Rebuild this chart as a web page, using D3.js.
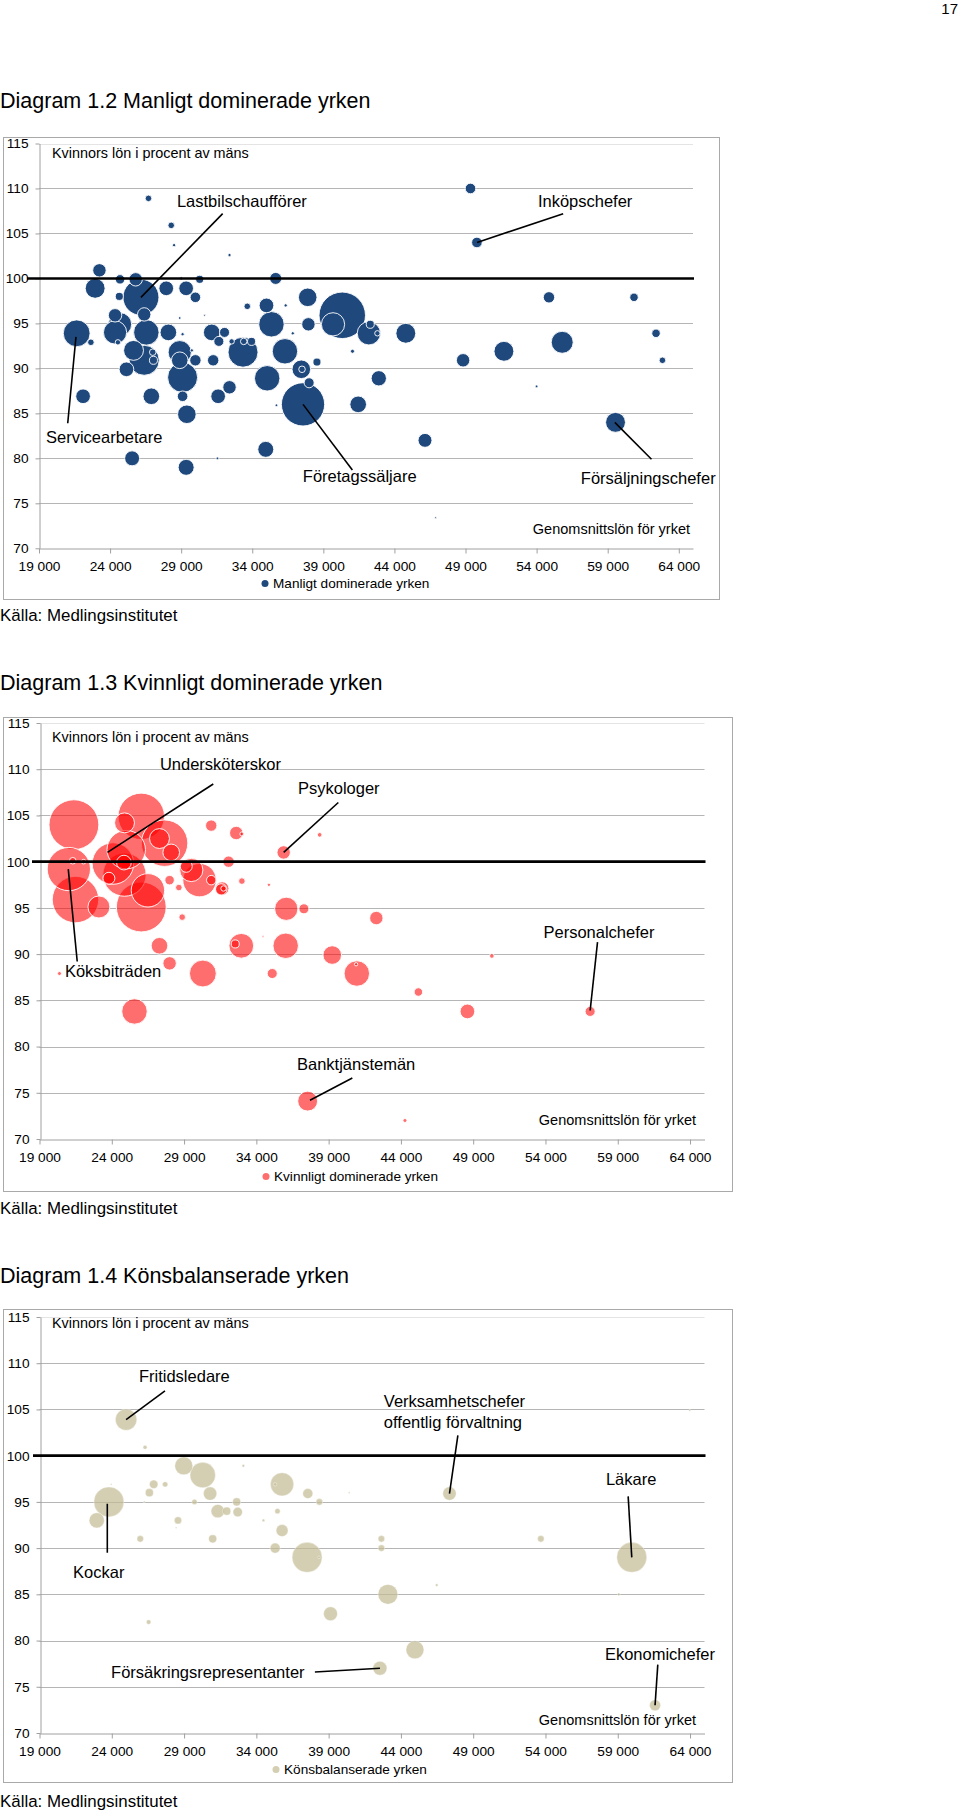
<!DOCTYPE html>
<html><head><meta charset="utf-8">
<script src="https://cdn.jsdelivr.net/npm/d3@7"></script>
<style>
body{margin:0;background:#fff;}
svg{display:block;font-family:"Liberation Sans",Arial,sans-serif;}
</style></head><body>
<svg id="c" width="960" height="1813"></svg>
<script>
// ---------- shared axes ----------
const xTicks = [19000,24000,29000,34000,39000,44000,49000,54000,59000,64000];
const yTicks = [70,75,80,85,90,95,100,105,110,115];

// ---------- Diagram 1.2 Manligt dominerade yrken ----------
const maleSalary = [26700,28300,28500,32400,23250,22950,24700,25800,26170,24650,27950,29350,30000,30300,29000,
  24350,24700,24350,26400,26550,25650,26400,27000,27050,24550,28100,28900,28900,30000,29750,29100,28900,30650,
  29100,29100,29400,26900,25150,22100,21650,22650,31150,32050,31650,31250,33350,32550,33400,33950,32400,31600,
  33650,35000,35350,36350,37900,37950,36850,36300,35050,37450,37500,38000,38550,35700,37570,40330,39680,42200,
  42300,42800,35650,41050,41450,42900,44800,49350,49800,48830,51700,54000,54870,55800,60850,62400,62850,59550,
  25550,29350,31550,34950,46150,46900];
const maleRatio = [108.9,105.9,103.7,102.6,100.9,98.9,99.9,99.9,97.9,98.0,98.9,98.9,97.9,99.9,100,
  95.9,94.9,94.0,96.0,94.0,92.0,90.9,91.8,90.9,92.9,94.0,91.8,90.9,90.9,92.0,93.8,95.6,95.9,
  89.0,86.9,84.9,86.9,89.9,86.9,93.9,92.9,94.0,94.0,93.0,90.9,91.8,93.0,93.0,93.0,87.9,86.9,
  96.9,97.0,94.9,97.0,97.9,94.9,93.9,91.9,88.9,89.9,89.9,88.4,90.7,85.9,86.0,95.9,94.9,93.9,
  94.9,93.9,100,91.9,86.0,88.9,93.9,110,104.0,90.9,91.9,88.0,97.9,92.9,97.9,93.9,90.9,84.0,
  80.0,79.0,80.0,81.0,82.0,73.4];
const maleSize = [1.2,1.2,0.3,0.3,5,11,2.5,5,36,1.8,6,6,3.1,1.8,0.3,
  5,15,15,5,18,11,25,1.2,1.8,0.8,7.7,15,7.7,3.6,0.3,0.3,0.2,0.1,
  25,3.1,9.6,7.7,6,6,20,1.2,7.7,2.8,2.8,3.6,25,0.8,1.2,1.8,5,6,
  1.2,6,18,0.3,9.6,5,0.3,18,18,9.6,1.2,2.8,1.8,0.2,52,60,15,15,
  1.8,0.8,4,0.45,7.7,6.5,11,3.1,3.1,5,11,0.2,3.6,13.4,2,2,1.2,11,
  6.2,7.1,0.2,7.1,5.4,0.1];
const maleNotes = [
  {t:["Lastbilschaufförer"], x:28700, y:108.6, from:[31920,107.2], to:[26170,97.9]},
  {t:["Inköpschefer"], x:54090, y:108.6, from:[55870,107.2], to:[49810,104.0]},
  {t:["Servicearbetare"], x:19490, y:82.4, from:[21020,83.9], to:[21600,93.5]},
  {t:["Företagssäljare"], x:37560, y:78.0, from:[41040,78.7], to:[37570,86.0]},
  {t:["Försäljningschefer"], x:57110, y:77.8, from:[62080,79.9], to:[59500,84.0]}
];

// ---------- Diagram 1.3 Kvinnligt dominerade yrken ----------
const femaleSalary = [21380,21030,21490,26040,24880,25000,24080,24880,23110,26040,26500,27650,28110,27300,29500,
  30070,29150,30880,32610,33000,32080,33000,31640,31730,34870,35890,38380,37290,36070,28870,27300,28000,32960,
  32540,36030,34460,35100,30300,39250,42300,40950,40900,25570,45210,50290,48600,57090,37550,44280,20380,
  24840,23800,28000,28640,30880,31570,21300,22050];
const femaleRatio = [104.0,99.2,95.9,104.9,104.2,101.3,99.8,98.6,95.1,95.1,96.9,102.0,101.0,102.5,99.1,
  98.0,99.5,103.9,103.1,103.0,100.0,97.9,97.1,97.1,97.5,101.0,102.9,94.9,94.9,94.0,90.9,89.0,90.9,
  91.1,90.9,91.9,87.9,87.9,89.9,93.9,87.9,88.9,83.8,85.9,89.8,83.8,83.8,74.1,72.0,87.9,
  99.9,98.2,98.0,97.2,98.0,97.0,100.1,100.0];
const femaleSize = [69,52,60,60,11,41,48,52,13.4,69,31,60,7.7,11,15,
  31,4,3.6,5,0.45,3.6,1.2,5,0.8,0.3,5,0.6,2.8,15,1.2,7.7,5,17,
  1.8,18,0.1,2.8,20,9.6,5,18,0.3,18,2,0.6,6,2.8,11,0.45,0.45,
  6,4,2.5,1.2,2.5,3.6,1.2,0.6];
const femaleNotes = [
  {t:["Undersköterskor"], x:27330, y:110.5, from:[31020,108.4], to:[23700,101.0]},
  {t:["Psykologer"], x:36880, y:107.9, from:[39670,106.4], to:[35890,101.0]},
  {t:["Köksbiträden"], x:20760, y:88.1, from:[21610,89.2], to:[20990,99.2]},
  {t:["Personalchefer"], x:53860, y:92.4, from:[57600,91.3], to:[57090,83.9]},
  {t:["Banktjänstemän"], x:36810, y:78.1, from:[40640,76.6], to:[37710,74.2]}
];

// ---------- Diagram 1.4 Könsbalanserade yrken ----------
const balSalary = [24990,26300,23800,22960,25970,26600,26900,27690,26250,28580,28980,30290,30800,29720,31330,
  31950,32640,32710,30980,33100,34490,35780,35300,35460,35780,35300,37510,38330,37560,38360,40420,23960,28450,
  47360,42650,42650,53680,59970,63980,43100,46480,59070,39130,26550,44970,42550,61580];
const balRatio = [103.9,100.9,95.0,93.0,91.0,96.0,96.9,96.9,95.0,93.0,98.9,97.9,95.9,95.0,94.0,
  94.0,95.0,93.9,91.0,98.9,93.0,96.9,96.9,94.0,91.9,90.0,89.0,89.0,95.9,95.0,96.0,96.9,92.2,
  95.9,91.0,90.0,91.0,89.0,104.9,85.0,86.0,85.0,82.9,82.0,79.0,77.0,73.0];
const balSize = [12.7,0.45,25,6.5,1.2,1.8,2,0.8,0.1,1.5,9,18,5,0.8,5,
  1.8,1.8,2.5,1.8,0.2,0.2,15,0.3,0.8,4,2.8,25,0.2,2.8,1.2,0.05,0.05,0.05,
  5,1.2,1.2,1.2,25,0.1,11,0.2,0.2,5.4,0.6,9,5.4,3.4];
const balNotes = [
  {t:["Fritidsledare"], x:25880, y:108.6, from:[27680,107.0], to:[24990,103.9]},
  {t:["Kockar"], x:21320, y:87.4, from:[23690,89.5], to:[23690,94.8]},
  {t:["Verksamhetschefer","offentlig förvaltning"], x:42820, y:105.9, from:[47940,102.2], to:[47360,95.9]},
  {t:["Läkare"], x:58180, y:97.5, from:[59720,95.6], to:[59970,89.0]},
  {t:["Försäkringsrepresentanter"], x:23950, y:76.6, from:[38050,76.6], to:[42550,77.0]},
  {t:["Ekonomichefer"], x:58110, y:78.5, from:[61770,77.4], to:[61580,73.0]}
];

const titles = ["Diagram 1.2 Manligt dominerade yrken","Diagram 1.3 Kvinnligt dominerade yrken","Diagram 1.4 Könsbalanserade yrken"];
const legendNames = ["Manligt dominerade yrken","Kvinnligt dominerade yrken","Könsbalanserade yrken"];
const yLabel = "Kvinnors lön i procent av mäns";
const xLabel = "Genomsnittslön för yrket";
const source = "Källa: Medlingsinstitutet";

// ---------- drawing ----------
const svg = d3.select("#c");
const FONT = '"Liberation Sans", Arial, sans-serif';
const fmt = d3.formatLocale({decimal:",", thousands:" ", grouping:[3], currency:["",""]}).format(",d");
const rScale = d3.scaleSqrt().domain([0,100]).range([0,30]);

svg.append("text").attr("x",958).attr("y",14).attr("text-anchor","end")
  .attr("font-size",15).attr("font-family",FONT).text("17");

const layouts = [
  {title:108, fx:3, fy:137, fw:716, fh:462, x0:39, x1:693, yT:143.5, yB:548.3, ref0:27, kvY:157.5, leg:[265,588], src:621, gx:690, gy:72.2},
  {title:690, fx:3, fy:717, fw:729, fh:474, x0:39.5, x1:704.5, yT:723, yB:1139, ref0:32, kvY:742, leg:[266,1181], src:1214, gx:696, gy:72.05},
  {title:1283, fx:3, fy:1309, fw:729, fh:473, x0:39.5, x1:704.5, yT:1317, yB:1733, ref0:33, kvY:1328, leg:[276,1774], src:1807, gx:696, gy:71.4}
];
const styles = [
  {fill:"#1f497d", op:1, stroke:"#ffffff", sw:0.9},
  {fill:"#ff0000", op:0.57, stroke:"#ffffff", sw:0.9},
  {fill:"#c4bc96", op:0.72, stroke:"#ffffff", sw:0.4}
];
const datasets = [
  [maleSalary, maleRatio, maleSize, maleNotes],
  [femaleSalary, femaleRatio, femaleSize, femaleNotes],
  [balSalary, balRatio, balSize, balNotes]
];

layouts.forEach((L, i) => {
  const st = styles[i];
  const [sal, rat, siz, notes] = datasets[i];
  const g = svg.append("g").attr("font-family", FONT);

  g.append("text").attr("x",0).attr("y",L.title).attr("font-size",21.5).attr("fill","#000").text(titles[i]);

  g.append("rect").attr("x",L.fx+0.5).attr("y",L.fy+0.5).attr("width",L.fw).attr("height",L.fh)
    .attr("fill","#fff").attr("stroke","#a9a9a9").attr("stroke-width",1);

  const x = d3.scaleLinear().domain([19000,65000]).range([L.x0,L.x1]);
  const y = d3.scaleLinear().domain([70,115]).range([L.yB,L.yT]);

  // gridlines
  g.append("g").selectAll("line").data(yTicks.filter(v => v > 70)).join("line")
    .attr("x1",L.x0).attr("x2",L.x1)
    .attr("y1",d => Math.round(y(d))+0.5).attr("y2",d => Math.round(y(d))+0.5)
    .attr("stroke",d => d === 115 ? "#e4e4e4" : "#b5b5b5").attr("stroke-width",1.2);

  // y axis
  const ya = g.append("g").attr("transform",`translate(${Math.round(L.x0)+0.5},0)`)
    .call(d3.axisLeft(y).tickValues(yTicks).tickSize(4).tickSizeOuter(0).tickPadding(7));
  ya.select(".domain").attr("stroke","#a0a0a0");
  ya.selectAll(".tick line").attr("stroke","#a0a0a0");
  ya.selectAll(".tick text").attr("font-size",13.7).attr("fill","#000").attr("font-family",FONT);

  // x axis
  const xa = g.append("g").attr("transform",`translate(0,${Math.round(L.yB)+0.5})`)
    .call(d3.axisBottom(x).tickValues(xTicks).tickFormat(fmt).tickSize(5).tickSizeOuter(0).tickPadding(8));
  xa.select(".domain").attr("stroke","#a0a0a0");
  xa.selectAll(".tick line").attr("stroke","#a0a0a0");
  xa.selectAll(".tick text").attr("font-size",13.7).attr("fill","#000").attr("font-family",FONT);

  // bubbles (largest drawn first)
  const pts = sal.map((s, k) => ({s, r: rat[k], z: siz[k]})).sort((a,b) => b.z - a.z);
  g.append("g").selectAll("circle").data(pts).join("circle")
    .attr("cx",d => x(d.s)).attr("cy",d => y(d.r)).attr("r",d => Math.max(0.8, rScale(d.z)))
    .attr("fill",st.fill).attr("fill-opacity",st.op)
    .attr("stroke",st.stroke).attr("stroke-width",st.sw);

  // 100 reference line
  g.append("line").attr("x1",L.ref0).attr("x2",L.x1+1).attr("y1",y(100)).attr("y2",y(100))
    .attr("stroke","#000").attr("stroke-width",2.6);

  // axis titles
  g.append("text").attr("x",52).attr("y",L.kvY).attr("font-size",14.4).attr("fill","#000").text(yLabel);
  g.append("text").attr("x",L.gx).attr("y",y(L.gy)).attr("dy","0.35em").attr("text-anchor","end")
    .attr("font-size",14.5).attr("fill","#000").text(xLabel);

  // annotations
  notes.forEach(n => {
    g.append("line").attr("x1",x(n.from[0])).attr("y1",y(n.from[1]))
      .attr("x2",x(n.to[0])).attr("y2",y(n.to[1])).attr("stroke","#000").attr("stroke-width",1.6);
    const t = g.append("text").attr("x",x(n.x)).attr("y",y(n.y))
      .attr("font-size",16.5).attr("fill","#000");
    n.t.forEach((line, j) => {
      t.append("tspan").attr("x",x(n.x)).attr("dy", j === 0 ? "0.35em" : "1.25em").text(line);
    });
  });

  // legend
  g.append("circle").attr("cx",L.leg[0]).attr("cy",L.leg[1]-4.5).attr("r",3.5)
    .attr("fill",st.fill).attr("fill-opacity",st.op);
  g.append("text").attr("x",L.leg[0]+8).attr("y",L.leg[1]).attr("font-size",13.6).attr("fill","#000").text(legendNames[i]);

  // source
  g.append("text").attr("x",0).attr("y",L.src).attr("font-size",16.9).attr("fill","#000").text(source);
});
</script>
</body></html>
